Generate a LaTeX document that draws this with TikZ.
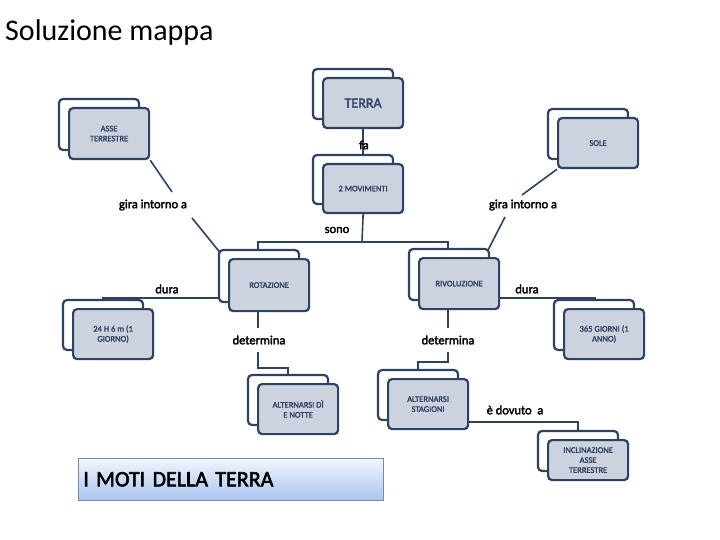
\documentclass[tikz,border=0pt]{standalone}
\usepackage{fontspec}
\setmainfont{Carlito}
\newfontfamily\bfc{Carlito}[FakeBold=2.5]
\usetikzlibrary{backgrounds}
\begin{document}
\begin{tikzpicture}[x=1pt,y=-1pt,
  edge/.style={draw=navy,line width=1.6pt},
  backbox/.style={draw=navy,line width=2.2pt,rounded corners=4pt,fill=white},
  frontbox/.style={draw=navy,line width=2.2pt,rounded corners=4pt,fill=boxfill,minimum width=80pt,minimum height=50pt,align=center,font=\bfc\fontsize{8.5}{10}\selectfont,text=boxtext,inner sep=2pt},
  lab/.style={font=\bfc\fontsize{12.5}{13}\selectfont,inner sep=1pt}]
\definecolor{navy}{HTML}{2E4263}
\definecolor{boxfill}{HTML}{CDD3DE}
\definecolor{boxtext}{HTML}{33466A}
\definecolor{tb1}{HTML}{F2F6FD}
\definecolor{tb2}{HTML}{A9C4EE}
\useasboundingbox (0,0) rectangle (720,540);
\node[anchor=west,font=\fontsize{30}{32}\selectfont,inner sep=0] (title) at (5,33) {Soluzione mappa};
\newcommand{\cbox}[5]{% name, x, y (front top-left), text, height
  \draw[backbox] (#2-9,#3-8) rectangle ++(80,#5);
  \node[frontbox,anchor=north west,minimum height=#5pt] (#1) at (#2,#3) {#4};}
\cbox{terra}{322}{77}{\fontsize{14}{15}\selectfont TERRA}{50}
\cbox{mov}{322}{163}{2 MOVIMENTI}{49}
\cbox{asse}{68}{107}{ASSE\\TERRESTRE}{51}
\cbox{sole}{557}{117}{SOLE}{50}
\cbox{rot}{228}{258}{ROTAZIONE}{52}
\cbox{riv}{418}{257}{RIVOLUZIONE}{51}
\cbox{h24}{72}{308}{24 H 6 m (1\\GIORNO)}{50}
\cbox{g365}{563}{308}{365 GIORNI (1\\ANNO)}{50}
\cbox{dn}{257}{383}{ALTERNARSI DÌ\\E NOTTE}{50}
\cbox{stag}{387}{378}{ALTERNARSI\\STAGIONI}{50}
\cbox{incl}{547}{439}{INCLINAZIONE\\ASSE\\TERRESTRE}{40}
\node[lab,anchor=west] (lfa) at (358,145) {fa};
\node[lab] (lsono) at (337,230) {sono};
\node[lab] (lg1) at (153,205) {gira intorno a};
\node[lab] (lg2) at (523,205) {gira intorno a};
\node[lab] (ld1) at (167,289) {dura};
\node[lab] (ld2) at (527,289) {dura};
\node[lab] (ldet1) at (259,340) {determina};
\node[lab] (ldet2) at (448,340) {determina};
\node[lab] (ldov) at (515,410) {è dovuto\ \ a};
\begin{scope}[on background layer]
\draw[edge] (terra.south) -- (mov.north);
\draw[edge] (mov.south) -- (362,242) coordinate (j1);
\draw[edge] (258,249) |- (j1) -| (448,249);
\draw[edge] (asse.south east) -- (172,192);
\draw[edge] (192,218) -- (222,255);
\draw[edge] (sole.south west) -- (522,195);
\draw[edge] (505,217) -- (486,254);
\draw[edge] (rot.west |- 0,298) -| (103,301);
\draw[edge] (riv.east |- 0,298) -| (595,301);
\draw[edge] (rot.south -| 258,0) -- (258,328);
\draw[edge] (258,352) |- (288,368) -- (288,376);
\draw[edge] (riv.south -| 448,0) -- (448,328);
\draw[edge] (448,352) |- (418,362) -- (418,371);
\draw[edge] (stag.south east |- 0,422) -| (578,431);
\end{scope}
\node[draw=tb2!70!black,line width=0.6pt,top color=tb1,bottom color=tb2,minimum width=305pt,minimum height=42pt,anchor=north west,text width=295pt,align=left,font=\bfc\fontsize{22}{24}\selectfont] (moti) at (78,458) {I MOTI DELLA TERRA};
\end{tikzpicture}
\end{document}
